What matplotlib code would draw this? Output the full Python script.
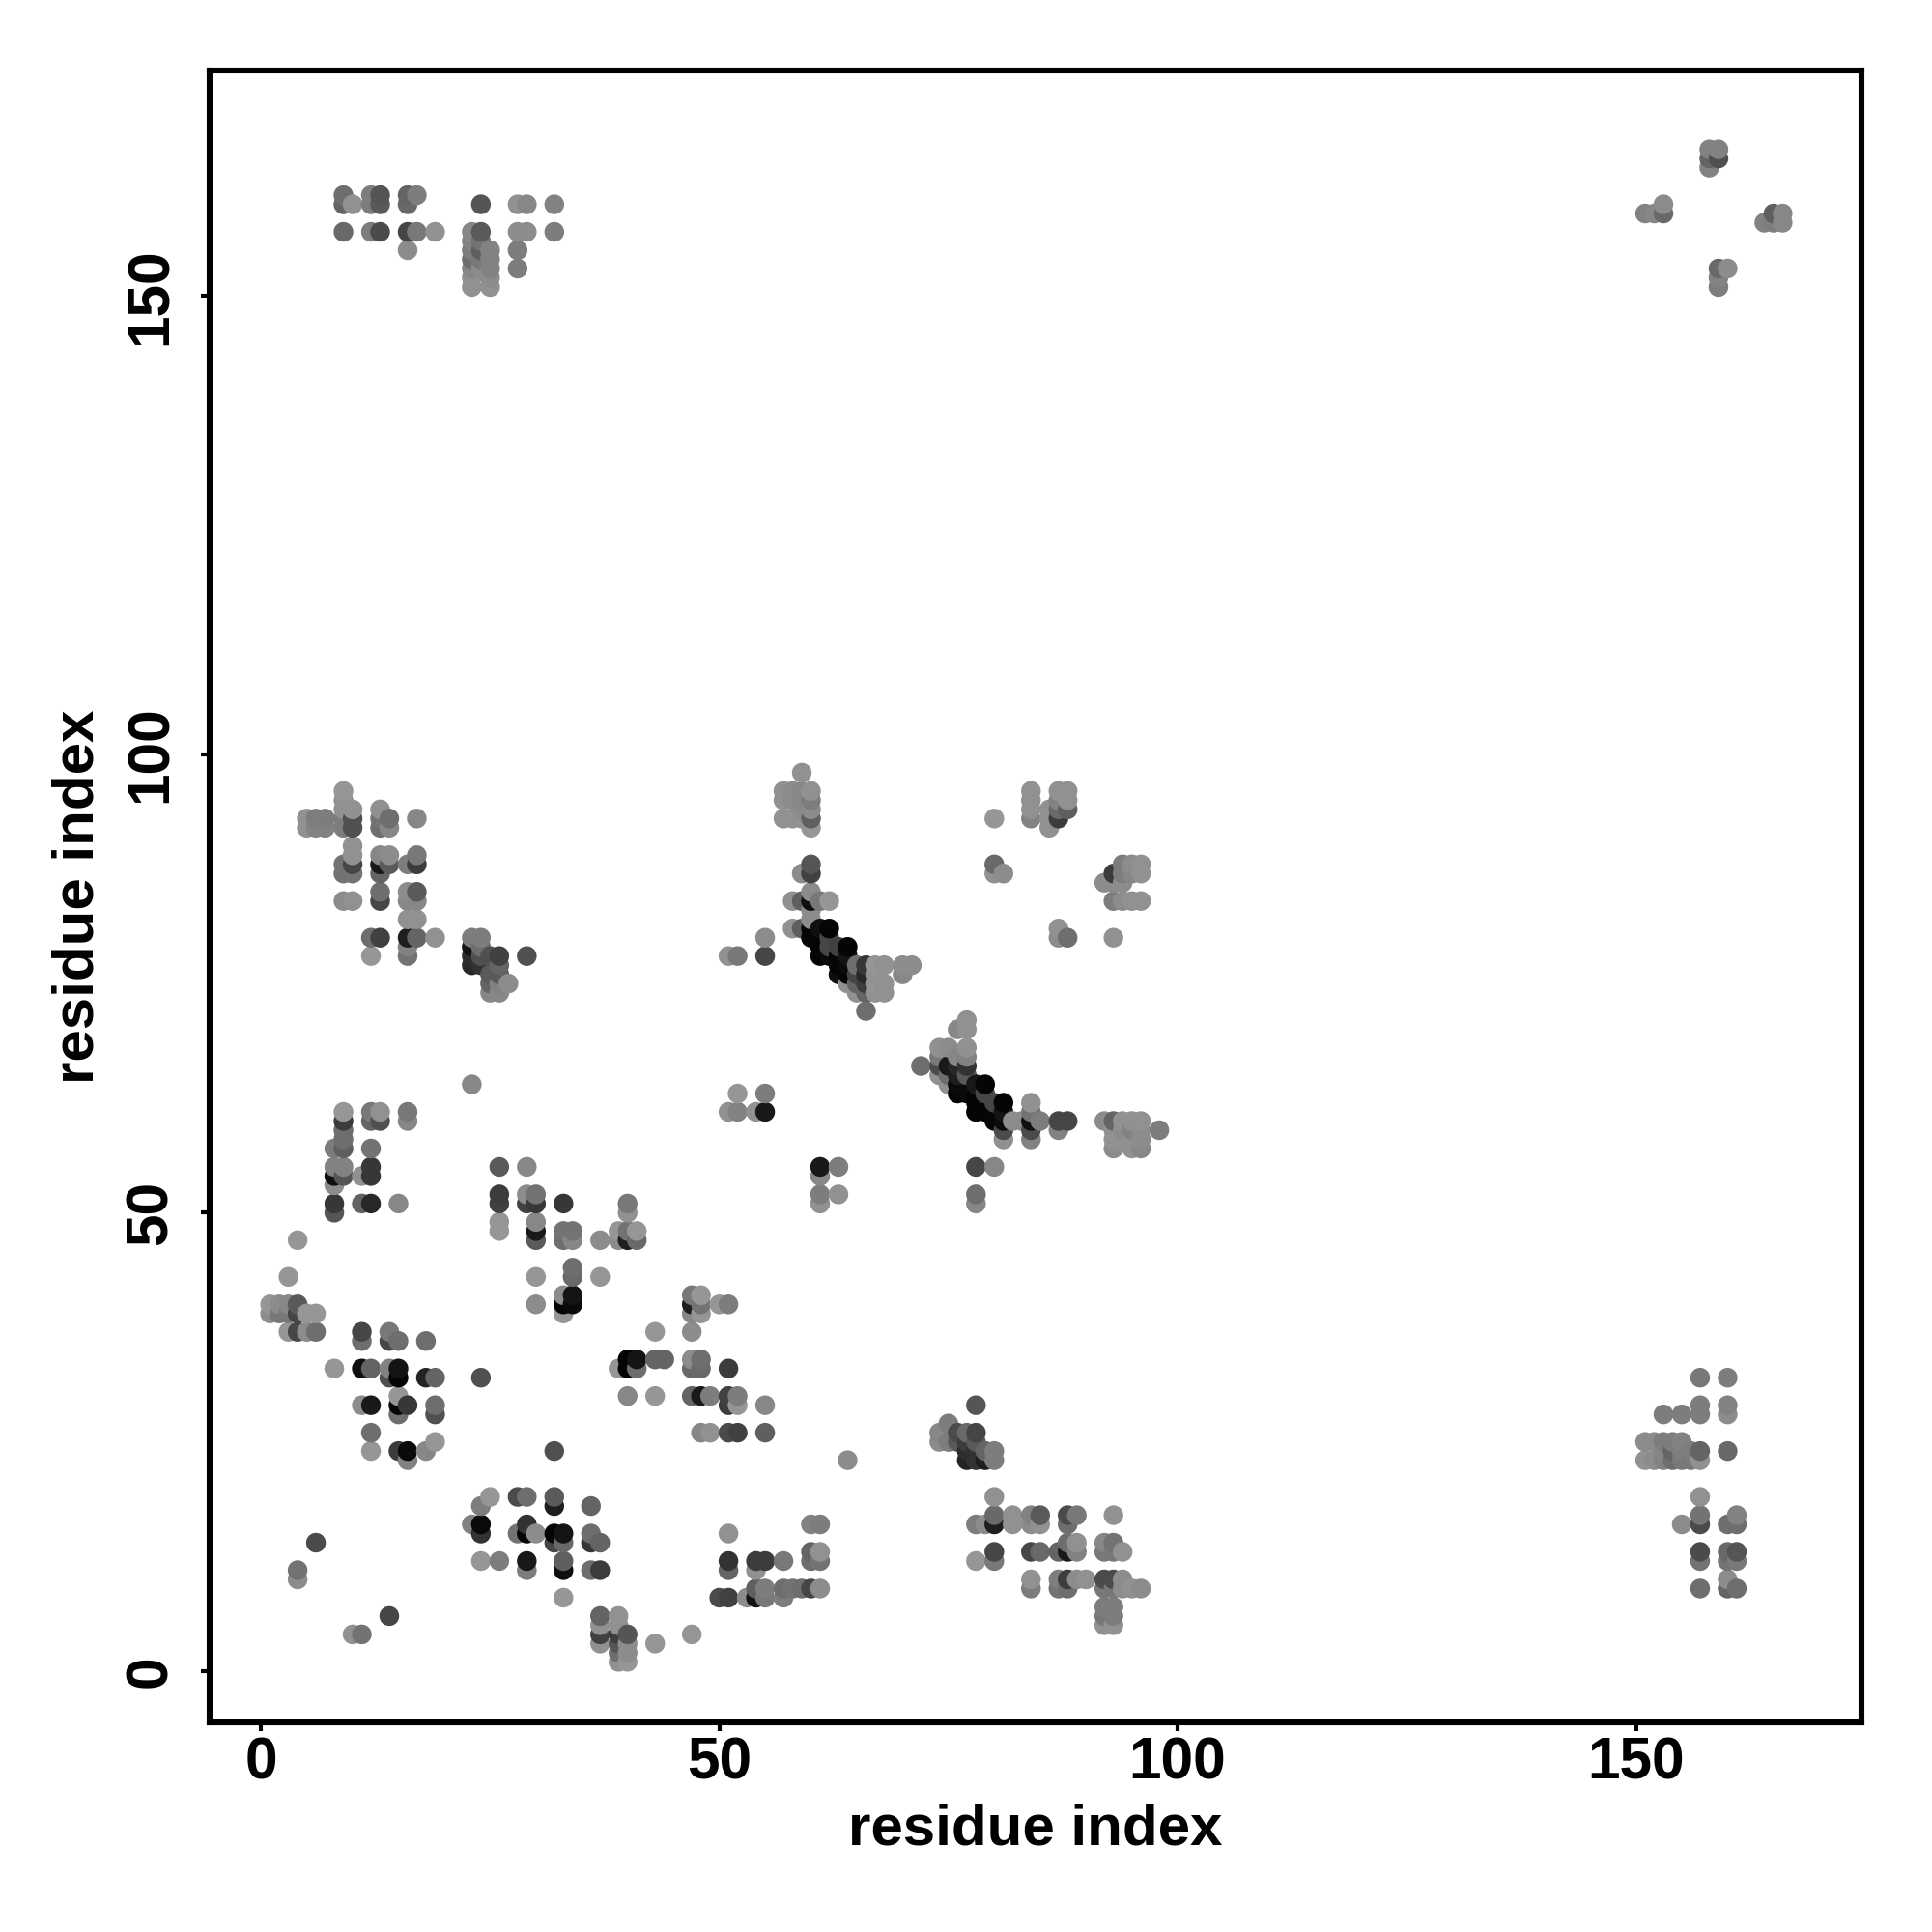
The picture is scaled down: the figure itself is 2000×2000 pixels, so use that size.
#!/usr/bin/env python3
# -*- coding: utf-8 -*-
import numpy as np
import matplotlib
matplotlib.use("Agg")
import matplotlib.pyplot as plt

# contacts as (residue i, residue j, grey level 0-255)
near_origin = [
    (4,47,150),(3,43,150),(1,40,150),(1,39,140),(2,40,140),(2,39,120),(3,40,135),(3,39,120),
    (4,40,90),(4,39,70),(5,39,150),(6,39,150),(3,37,150),(4,37,70),(5,37,140),(6,37,110),
    (6,14,75),(4,11,115),(4,10,140),(14,6,70),(10,4,145),(11,4,115),
]
block_10_20 = [
    (11,37,70),(11,36,110),(14,37,120),(14,36,70),(15,36,110),(18,36,110),(8,33,150),(11,33,15),
    (12,33,100),(14,33,130),(14,32,80),(15,33,20),(15,32,5),(18,32,35),(19,32,100),(24,32,80),
    (11,29,140),(12,29,25),(15,30,150),(15,29,5),(16,29,55),(15,28,110),(19,29,110),(19,28,80),
    (12,26,110),(12,24,150),(15,24,60),(16,24,10),(16,23,130),(18,24,135),(19,25,150),(32,24,80),
]
block_25_45 = [
    (26,49,150),(26,48,150),(30,49,135),(30,48,25),(30,47,90),(33,48,115),(33,47,110),(34,48,115),
    (34,47,135),(37,47,140),(39,48,150),(39,47,140),(40,48,115),(40,47,30),(41,48,150),(41,47,105),
    (34,44,110),(34,43,105),(30,43,150),(37,43,150),(30,40,140),(33,41,140),(33,40,5),(34,41,20),
    (34,40,10),(33,39,150),(43,37,150),(39,33,150),(40,34,5),(40,33,5),(41,34,20),(41,33,110),
    (40,30,135),(43,34,100),(44,34,100),(43,30,150),
]
block_47_55 = [
    (47,41,120),(48,41,150),(47,40,30),(48,40,115),(47,39,135),(48,39,150),(50,40,150),(51,40,125),
    (47,37,140),(47,34,140),(48,34,110),(47,33,105),(48,33,105),(51,33,60),(47,30,100),(48,30,25),
    (49,30,125),(51,30,65),(52,30,125),(51,29,60),(52,29,150),(55,29,135),(48,26,135),(49,26,145),
    (51,26,75),(52,26,65),(55,26,95),(64,23,140),
]
block_75_80 = [
    (78,29,85),(75,27,125),(74,26,135),(74,25,140),(75,25,125),(76,26,75),(76,25,90),(77,26,105),
    (78,26,70),(77,25,60),(78,25,90),(77,24,45),(77,23,35),(78,24,50),(78,23,50),(79,24,100),
    (79,23,30),(80,24,125),(80,23,125),
]
block_80_96 = [
    (80,19,145),(80,17,105),(80,16,30),(78,16,125),(79,16,140),(82,17,145),(82,16,145),(84,17,130),
    (84,16,140),(85,17,90),(85,16,145),(88,17,75),(89,17,120),(88,16,110),(93,17,145),(80,13,70),
    (80,12,120),(78,12,150),(84,13,70),(85,13,105),(87,13,100),(88,14,110),(88,13,25),(89,14,145),
    (89,13,130),(92,14,135),(92,13,120),(93,14,115),(93,13,120),(94,13,145),(84,10,145),(84,9,125),
    (87,10,125),(87,9,115),(88,10,60),(88,9,110),(89,10,140),(90,10,145),(92,10,75),(93,10,75),
    (92,9,120),(93,9,120),(94,10,140),(94,9,140),(95,9,145),(96,9,140),(92,7,125),(93,7,125),
    (92,6,120),(93,6,125),(92,5,145),(93,5,145),
]
block_23_37 = [
    (25,19,150),(24,18,125),(28,19,75),(29,19,110),(32,19,90),(32,18,30),(36,18,100),(23,16,130),
    (24,16,10),(24,15,50),(29,16,50),(28,15,115),(29,15,5),(30,15,140),(32,15,5),(33,15,20),
    (32,14,70),(33,14,105),(36,15,110),(36,14,55),(37,14,100),(24,12,150),(26,12,125),(29,12,25),
    (29,11,125),(33,12,95),(33,11,15),(36,11,110),(37,11,60),(33,8,150),
]
strand_37_47 = [
    (37,6,100),(37,5,145),(37,4,65),(37,3,145),(39,6,145),(39,5,145),(39,4,60),(39,3,85),
    (39,2,110),(39,1,145),(40,4,85),(40,3,140),(40,2,140),(40,1,150),(43,3,150),(47,4,150),
]
block_50_61 = [
    (51,15,145),(51,12,50),(51,11,100),(54,12,60),(55,12,60),(54,11,145),(57,12,120),(60,16,130),
    (61,16,125),(60,13,100),(61,13,145),(60,12,110),(61,12,115),(50,8,75),(51,8,65),(53,8,140),
    (54,9,95),(54,8,20),(55,9,125),(55,8,120),(57,9,110),(57,8,125),(58,9,115),(59,9,110),
    (60,9,70),(61,9,140),
]
block_151_161 = [
    (157,32,120),(160,32,125),(157,29,125),(157,28,125),(160,29,130),(160,28,140),(153,28,125),(155,28,125),
    (151,25,140),(152,25,140),(153,25,125),(154,25,125),(155,25,130),(151,23,145),(152,23,140),(153,23,130),
    (154,23,110),(155,23,120),(156,23,120),(157,23,145),(154,24,100),(157,24,100),(160,24,105),(153,24,135),
    (155,24,125),(156,24,125),(157,19,145),(157,17,115),(157,16,75),(155,16,140),(160,16,110),(161,17,130),
    (161,16,110),(157,13,75),(157,12,115),(160,13,105),(161,13,85),(160,12,115),(161,12,120),(157,9,110),
    (160,10,140),(160,9,100),(161,9,110),
]
block_5_19_upper = [
    (9,96,150),(9,95,145),(9,94,145),(9,93,125),(9,92,125),(10,94,145),(10,93,80),(10,92,80),
    (5,93,145),(5,92,145),(6,93,125),(6,92,130),(7,93,125),(7,92,130),(13,94,145),(13,93,115),
    (13,92,110),(14,93,110),(14,92,135),(17,93,135),(10,90,145),(10,89,145),(10,88,70),(9,88,115),
    (9,87,115),(10,87,115),(13,89,135),(14,89,140),(13,88,25),(14,88,90),(13,87,100),(16,88,125),
    (17,89,120),(17,88,60),(9,84,140),(10,84,145),(13,85,110),(13,84,70),(16,85,140),(16,84,135),
    (17,85,90),(17,84,135),(16,82,145),(17,82,145),(12,80,110),(13,80,65),(16,80,30),(17,80,100),
    (19,80,145),(12,78,150),(16,79,130),(16,78,115),
]
block_23_29 = [
    (23,80,125),(24,80,125),(23,79,20),(23,78,45),(23,77,40),(24,79,110),(24,78,80),(24,77,50),
    (25,78,80),(26,78,65),(25,76,90),(25,75,100),(25,74,135),(26,77,100),(26,76,90),(26,75,130),
    (26,74,135),(27,75,140),(29,78,80),(23,64,135),
]
block_8_16_mid = [
    (9,61,150),(9,60,60),(9,59,110),(9,58,110),(9,57,95),(8,57,125),(12,61,120),(13,61,145),
    (12,60,100),(13,60,80),(16,61,120),(16,60,135),(12,57,115),(8,55,130),(9,55,130),(8,54,15),
    (9,54,85),(8,53,140),(11,54,145),(12,55,55),(12,54,55),(8,51,55),(8,50,85),(11,51,100),
    (12,51,40),(15,51,135),
]
block_26_40 = [
    (26,55,90),(29,55,135),(26,52,60),(26,51,65),(29,52,140),(30,52,115),(29,51,65),(30,51,55),
    (33,51,55),(40,51,120),(40,50,145),
]
block_57_61_top = [
    (59,98,145),(57,96,145),(57,95,145),(57,93,145),(58,96,140),(58,95,140),(58,93,145),(59,96,135),
    (59,95,135),(59,94,140),(59,93,145),(60,96,145),(60,95,125),(60,94,140),(60,93,95),(60,92,150),
]
block_80_88_top = [
    (80,93,150),(84,96,145),(84,95,145),(84,94,145),(84,93,130),(86,94,145),(86,93,145),(86,92,145),
    (87,96,145),(88,96,145),(87,95,130),(88,95,145),(87,94,105),(88,94,95),(87,93,60),(80,88,105),
    (80,87,145),(81,87,140),(87,81,145),(87,80,140),(88,80,110),
]
block_92_96_top = [
    (93,80,145),(93,87,60),(94,88,125),(95,88,140),(96,88,145),(94,87,125),(95,87,135),(96,87,145),
    (92,86,140),(93,86,140),(94,86,140),(93,84,125),(94,84,140),(95,84,145),(96,84,145),
]
helix_58_71 = [
    (60,88,85),(60,87,65),(59,87,140),(60,85,140),(58,84,145),(59,84,95),(60,84,15),(61,84,120),
    (62,84,150),(60,83,140),(60,82,140),(58,81,145),(59,81,95),(60,81,5),(61,81,15),(62,81,5),
    (60,80,5),(61,80,5),(62,80,70),(61,79,5),(61,78,5),(62,79,70),(63,79,65),(64,79,5),
    (62,78,10),(63,78,5),(64,78,20),(63,77,5),(64,77,10),(63,76,15),(64,76,5),(65,77,110),
    (66,77,55),(65,76,70),(66,76,40),(64,75,145),(65,75,100),(66,75,60),(65,74,145),(66,74,100),
    (67,77,150),(68,77,145),(67,76,145),(68,75,145),(67,75,150),(67,74,145),(68,74,145),(66,72,110),
    (70,77,140),(71,77,140),(70,76,135),(55,80,140),(55,78,70),(51,78,145),(52,78,120),
]
helix_72_85 = [
    (77,71,145),(76,70,135),(77,70,145),(74,68,145),(75,68,140),(77,68,145),(74,67,120),(76,67,135),
    (77,67,130),(72,66,110),(74,66,75),(75,66,25),(76,66,40),(77,66,50),(74,65,145),(75,65,110),
    (76,65,30),(77,65,90),(75,64,145),(76,64,10),(78,64,25),(79,64,5),(76,63,5),(77,63,10),
    (78,63,5),(79,63,70),(81,62,5),(78,62,5),(79,62,5),(80,62,70),(78,61,5),(79,61,5),
    (80,61,5),(81,61,20),(80,60,5),(81,60,10),(82,60,140),(83,60,140),(84,62,145),(84,61,115),
    (84,60,15),(85,60,125),(81,59,75),(81,58,145),(84,59,75),(84,58,130),(87,60,70),(88,60,70),
    (87,59,130),
]
block_92_98_mid = [
    (92,60,140),(93,60,100),(94,60,145),(95,60,145),(96,60,145),(93,59,145),(94,59,140),(95,59,130),
    (96,59,140),(98,59,125),(93,58,145),(94,58,145),(95,58,145),(96,58,140),(93,57,140),(95,57,145),
    (96,57,135),
]
block_51_80_mid = [
    (52,63,150),(55,63,125),(51,61,145),(52,61,130),(54,61,145),(55,61,25),(61,55,25),(63,55,125),
    (61,54,135),(61,52,125),(63,52,145),(61,51,145),(78,55,70),(80,55,135),(78,52,110),(78,51,135),
]
block_9_32_top = [
    (9,161,110),(9,160,100),(10,160,145),(12,161,125),(12,160,125),(13,161,85),(13,160,90),(16,161,100),
    (16,160,105),(17,161,125),(24,160,85),(28,160,145),(29,160,135),(32,160,130),(9,157,105),(12,157,125),
    (13,157,75),(16,157,70),(17,157,120),(19,157,145),(28,157,140),(29,157,140),(32,157,125),(16,155,140),
    (28,155,125),(28,153,125),(23,157,135),(23,156,130),(23,155,125),(23,154,110),(23,153,135),(23,152,145),
    (23,151,145),(24,157,90),(24,156,115),(24,155,95),(24,154,120),(24,153,140),(25,155,130),(25,154,130),
    (25,153,130),(25,152,140),(25,151,145),
]
block_151_166_top = [
    (158,166,130),(159,166,130),(158,165,100),(159,165,80),(158,164,130),(151,159,130),(152,159,135),(153,159,105),
    (153,160,140),(164,158,130),(165,159,95),(165,158,125),(166,159,135),(166,158,135),(159,153,105),(160,153,140),
    (159,152,130),(159,151,125),
]

tick_values = [0, 50, 100, 150]
axis_label = "residue index"

contacts = np.array(near_origin + block_10_20 + block_25_45 + block_47_55 + block_75_80
                    + block_80_96 + block_23_37 + strand_37_47 + block_50_61 + block_151_161
                    + block_5_19_upper + block_23_29 + block_8_16_mid + block_26_40
                    + block_57_61_top + block_80_88_top + block_92_96_top + helix_58_71
                    + helix_72_85 + block_92_98_mid + block_51_80_mid + block_9_32_top
                    + block_151_166_top)

# later residues end up on top, same as in the original
order = np.lexsort((contacts[:, 1], contacts[:, 0]))
contacts = contacts[order]
greys = [(g / 255., g / 255., g / 255.) for g in contacts[:, 2]]

plt.rcParams['font.family'] = ['Liberation Sans', 'DejaVu Sans']
plt.rcParams['font.weight'] = 'bold'

fig = plt.figure(figsize=(10, 10), dpi=200)
ax = fig.add_axes([217 / 2000., 1 - 1783 / 2000., 1710 / 2000., 1710 / 2000.])

ax.scatter(contacts[:, 0], contacts[:, 1], c=greys, s=54, linewidths=0, zorder=3)

ax.set_xlim(-5.6, 174.6)
ax.set_ylim(-5.6, 174.6)
ax.set_xticks(tick_values)
ax.set_yticks(tick_values)
ax.tick_params(length=3.4, width=1.5, labelsize=21.8)
ax.tick_params(axis='x', pad=2)
ax.tick_params(axis='y', pad=8)
for label in ax.get_yticklabels():
    label.set_rotation(90)
    label.set_va('center')
for spine in ax.spines.values():
    spine.set_linewidth(2.2)

ax.set_xlabel(axis_label, fontsize=21.6, fontweight='bold', labelpad=4)
ax.set_ylabel(axis_label, fontsize=21.6, fontweight='bold', labelpad=7)

fig.savefig("out.png", dpi=200)
